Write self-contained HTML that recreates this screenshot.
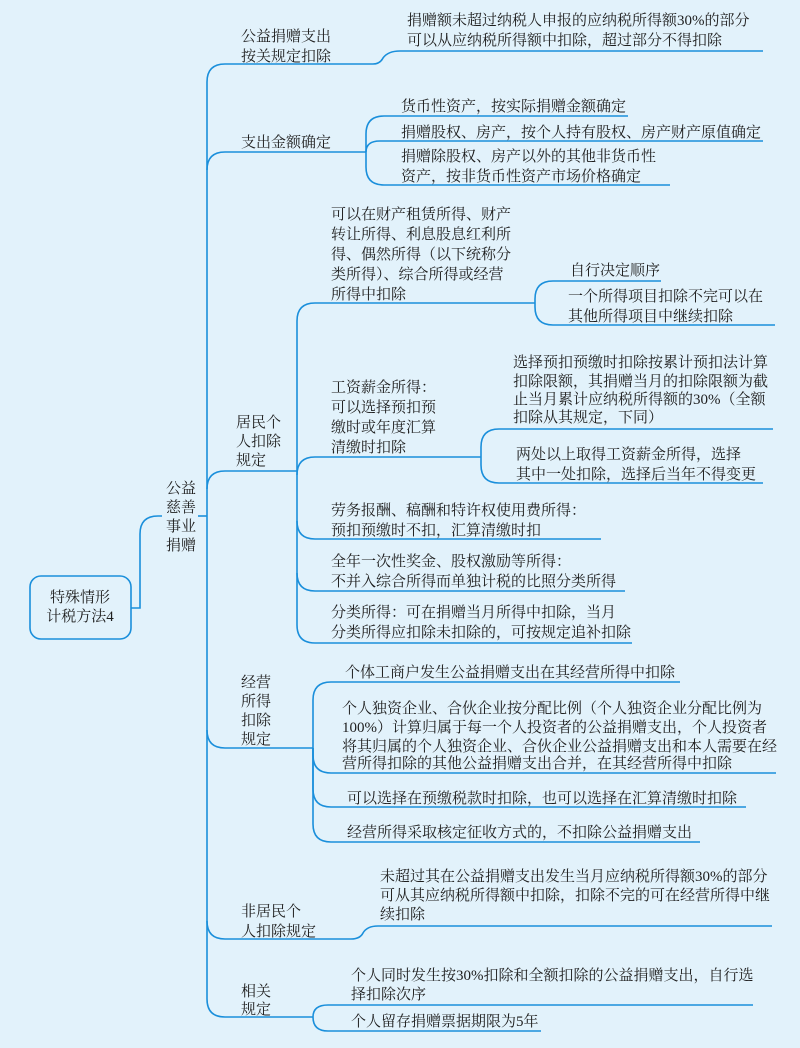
<!DOCTYPE html>
<html><head><meta charset="utf-8"><style>
html,body{margin:0;padding:0;background:#e2f2fb;}
svg{display:block}
text{font-family:"Liberation Serif","Noto Serif CJK SC","Noto Sans CJK SC",serif;font-size:15px;fill:#1e1e1e;dominant-baseline:central}
.l{fill:none;stroke:#1a8fdb;stroke-width:1.6}
</style></head><body>
<svg width="800" height="1048" viewBox="0 0 800 1048" xmlns="http://www.w3.org/2000/svg">
<rect width="800" height="1048" fill="#e2f2fb"/>
<g class="l">
<rect x="30" y="576" width="101" height="63" rx="11"/>
<path d="M131,608 H140 V534 Q140,516 158,516 H162"/>
<path d="M198,516 H207"/>
<path d="M207,82 Q207,64 225,64 H373 Q380,64 383,58 Q388,51 400,51 H763"/>
<path d="M207,82 V999"/>
<path d="M207,170 Q207,152 225,152 H366"/>
<path d="M366,152 V134 Q366,116 384,116 H628"/>
<path d="M366,152 Q366,141 380,141 H763"/>
<path d="M366,152 V167 Q366,185 384,185 H670"/>
<path d="M207,489 Q207,471 225,471 H297"/>
<path d="M297,321 V625"/>
<path d="M297,321 Q297,303 315,303 H535"/>
<path d="M535,303 V299 Q535,281 553,281 H661"/>
<path d="M535,303 V307 Q535,325 553,325 H775"/>
<path d="M297,475 Q297,457 315,457 H481"/>
<path d="M481,457 V447 Q481,429 499,429 H773"/>
<path d="M481,457 V465 Q481,483 499,483 H763"/>
<path d="M297,521 Q297,539 315,539 H601"/>
<path d="M297,573 Q297,591 315,591 H625"/>
<path d="M297,625 Q297,643 315,643 H632"/>
<path d="M207,730 Q207,748 225,748 H313"/>
<path d="M313,748 V700 Q313,682 331,682 H680"/>
<path d="M313,748 V755 Q313,773 331,773 H776"/>
<path d="M313,748 V789 Q313,807 331,807 H746"/>
<path d="M313,748 V824 Q313,842 331,842 H700"/>
<path d="M207,921 Q207,939 225,939 H351 Q360,939 363,933 Q367,926 378,926 H772"/>
<path d="M207,999 Q207,1017 225,1017 H313"/>
<path d="M313,1017 Q313,1005 328,1005 H753"/>
<path d="M313,1017 Q313,1031 328,1031 H541"/>
</g>
<text x="80" y="598" text-anchor="middle">特殊情形</text>
<text x="80" y="617" text-anchor="middle">计税方法4</text>
<text x="166" y="489">公益</text><text x="166" y="508">慈善</text><text x="166" y="527">事业</text><text x="166" y="546">捐赠</text>
<text x="241" y="37">公益捐赠支出</text><text x="241" y="57">按关规定扣除</text>
<text x="407" y="21">捐赠额未超过纳税人申报的应纳税所得额30%的部分</text>
<text x="407" y="41">可以从应纳税所得额中扣除，超过部分不得扣除</text>
<text x="241" y="143">支出金额确定</text>
<text x="401" y="107">货币性资产，按实际捐赠金额确定</text>
<text x="401" y="133">捐赠股权、房产，按个人持有股权、房产财产原值确定</text>
<text x="401" y="157">捐赠除股权、房产以外的其他非货币性</text>
<text x="401" y="177">资产，按非货币性资产市场价格确定</text>
<text x="236" y="423">居民个</text><text x="236" y="442">人扣除</text><text x="236" y="461">规定</text>
<text x="331" y="215">可以在财产租赁所得、财产</text>
<text x="331" y="235">转让所得、利息股息红利所</text>
<text x="331" y="255">得、偶然所得（以下统称分</text>
<text x="331" y="275">类所得）、综合所得或经营</text>
<text x="331" y="295">所得中扣除</text>
<text x="570" y="271">自行决定顺序</text>
<text x="568" y="297">一个所得项目扣除不完可以在</text>
<text x="568" y="317">其他所得项目中继续扣除</text>
<text x="331" y="388">工资薪金所得：</text>
<text x="331" y="408">可以选择预扣预</text>
<text x="331" y="428">缴时或年度汇算</text>
<text x="331" y="448">清缴时扣除</text>
<text x="513" y="363">选择预扣预缴时扣除按累计预扣法计算</text>
<text x="513" y="382">扣除限额，其捐赠当月的扣除限额为截</text>
<text x="513" y="400">止当月累计应纳税所得额的30%（全额</text>
<text x="513" y="418">扣除从其规定，下同）</text>
<text x="516" y="455">两处以上取得工资薪金所得，选择</text>
<text x="516" y="475">其中一处扣除，选择后当年不得变更</text>
<text x="331" y="511">劳务报酬、稿酬和特许权使用费所得：</text>
<text x="331" y="531">预扣预缴时不扣，汇算清缴时扣</text>
<text x="331" y="562">全年一次性奖金、股权激励等所得：</text>
<text x="331" y="582">不并入综合所得而单独计税的比照分类所得</text>
<text x="331" y="613">分类所得：可在捐赠当月所得中扣除，当月</text>
<text x="331" y="633">分类所得应扣除未扣除的，可按规定追补扣除</text>
<text x="241" y="683">经营</text><text x="241" y="702">所得</text><text x="241" y="721">扣除</text><text x="241" y="740">规定</text>
<text x="345" y="673">个体工商户发生公益捐赠支出在其经营所得中扣除</text>
<text x="342" y="709">个人独资企业、合伙企业按分配比例（个人独资企业分配比例为</text>
<text x="342" y="728">100%）计算归属于每一个人投资者的公益捐赠支出，个人投资者</text>
<text x="342" y="747">将其归属的个人独资企业、合伙企业公益捐赠支出和本人需要在经</text>
<text x="342" y="764">营所得扣除的其他公益捐赠支出合并，在其经营所得中扣除</text>
<text x="347" y="799">可以选择在预缴税款时扣除，也可以选择在汇算清缴时扣除</text>
<text x="347" y="833">经营所得采取核定征收方式的，不扣除公益捐赠支出</text>
<text x="241" y="912">非居民个</text><text x="241" y="932">人扣除规定</text>
<text x="380" y="877">未超过其在公益捐赠支出发生当月应纳税所得额30%的部分</text>
<text x="380" y="896">可从其应纳税所得额中扣除，扣除不完的可在经营所得中继</text>
<text x="380" y="915">续扣除</text>
<text x="241" y="992">相关</text><text x="241" y="1010">规定</text>
<text x="351" y="976">个人同时发生按30%扣除和全额扣除的公益捐赠支出，自行选</text>
<text x="351" y="995">择扣除次序</text>
<text x="351" y="1022">个人留存捐赠票据期限为5年</text>
</svg>
</body></html>
